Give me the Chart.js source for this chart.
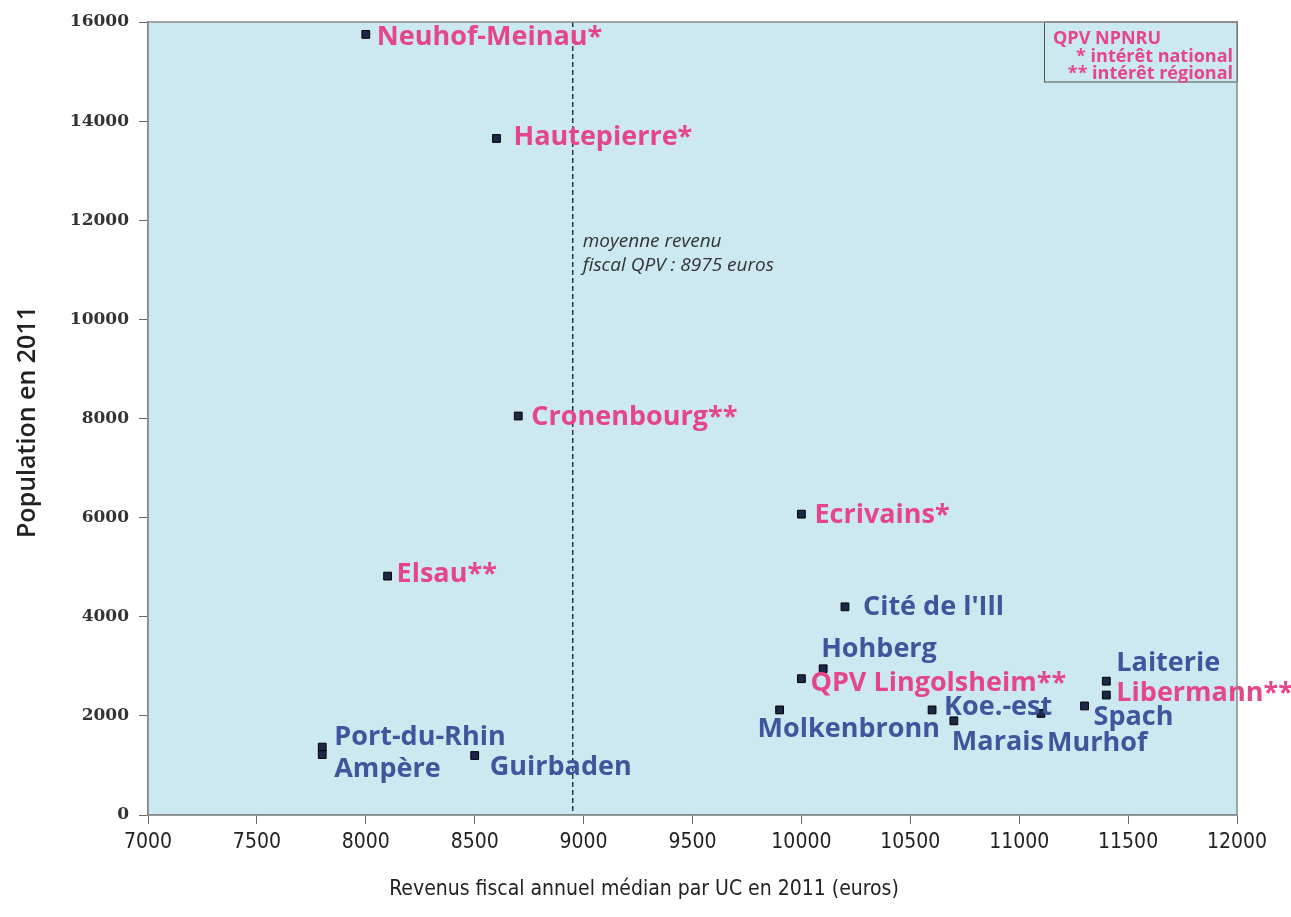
<!DOCTYPE html>
<html>
<head>
<meta charset="utf-8">
<script src="https://cdn.jsdelivr.net/npm/chart.js@4.4.0/dist/chart.umd.min.js"></script>
<style>
    html, body { margin: 0; padding: 0; background: #fff; }
    #wrap { width: 1291px; height: 917px; }
</style>
</head>
<body>
<div id="wrap"><canvas id="qpvChart" width="1291" height="917"></canvas></div>
<script>
// Quartiers (QPV) - revenu fiscal median par UC et population 2011
const quartiers = [
    'Neuhof-Meinau*', 'Hautepierre*', 'Cronenbourg**', 'Ecrivains*', 'Elsau**',
    "Cité de l'Ill", 'Hohberg', 'QPV Lingolsheim**', 'Laiterie', 'Libermann**',
    'Molkenbronn', 'Koe.-est', 'Spach', 'Murhof', 'Marais',
    'Port-du-Rhin', 'Ampère', 'Guirbaden'
];
const revenuMedian = [
    8000, 8600, 8700, 10000, 8100,
    10200, 10100, 10000, 11400, 11400,
    9900, 10600, 11300, 11100, 10700,
    7800, 7800, 8500
];
const population = [
    15750, 13650, 8050, 6070, 4820,
    4200, 2950, 2750, 2700, 2420,
    2120, 2120, 2200, 2050, 1900,
    1370, 1220, 1200
];
const xTickValues = [7000, 7500, 8000, 8500, 9000, 9500, 10000, 10500, 11000, 11500, 12000];
const yTickValues = [0, 2000, 4000, 6000, 8000, 10000, 12000, 14000, 16000];
const moyenneRevenu = 8950;
const moyenneTexte = ['moyenne revenu', 'fiscal QPV : 8975 euros'];
const legendLines = ['QPV NPNRU', '* intérêt national', '** intérêt régional'];

// label placement relative to each point (px)
const labelOffsets = [
    [11, 3], [17, -1], [13, 1], [13, 1], [9, -2],
    [18, 0], [-2, -19], [9, 5], [10, -18], [10, -2],
    [-22, 19], [12, -3], [9, 11], [6, 30], [-2, 21],
    [12, -10], [12, 15], [15, 12]
];

const PINK = '#e5468b';
const BLUE = '#3d569c';
const PLOT_BG = '#cce8f0';
const NARROW = "'Liberation Sans Narrow', 'DejaVu Sans Condensed', 'Roboto', sans-serif";

const decorPlugin = {
    id: 'decor',
    beforeDraw(chart) {
        const { ctx, chartArea: a } = chart;
        ctx.save();
        ctx.fillStyle = PLOT_BG;
        ctx.fillRect(a.left, a.top, a.right - a.left, a.bottom - a.top);
        ctx.restore();
    },
    beforeDatasetsDraw(chart) {
        const { ctx, chartArea: a, scales } = chart;
        const mx = scales.x.getPixelForValue(moyenneRevenu);
        ctx.save();
        ctx.strokeStyle = '#2a3550';
        ctx.lineWidth = 1.5;
        ctx.setLineDash([5, 3]);
        ctx.beginPath();
        ctx.moveTo(mx, a.top);
        ctx.lineTo(mx, a.bottom);
        ctx.stroke();
        ctx.setLineDash([]);
        ctx.fillStyle = '#333';
        ctx.font = "italic 19px 'Open Sans'";
        ctx.textAlign = 'left';
        ctx.textBaseline = 'middle';
        ctx.fillText(moyenneTexte[0], mx + 10, 242);
        ctx.fillText(moyenneTexte[1], mx + 10, 266);
        ctx.restore();
    },
    afterDatasetsDraw(chart) {
        const { ctx, chartArea: a, scales } = chart;
        ctx.save();
        // point labels
        ctx.font = "bold 27px 'Open Sans'";
        ctx.textAlign = 'left';
        ctx.textBaseline = 'middle';
        quartiers.forEach((name, i) => {
            const px = scales.x.getPixelForValue(revenuMedian[i]);
            const py = scales.y.getPixelForValue(population[i]);
            ctx.fillStyle = name.includes('*') ? PINK : BLUE;
            ctx.fillText(name, px + labelOffsets[i][0], py + labelOffsets[i][1]);
        });

        // legend box, top right
        const bx = 1044, bh = 60;
        ctx.fillStyle = PLOT_BG;
        ctx.fillRect(bx, a.top, a.right - bx, bh);
        ctx.strokeStyle = '#555';
        ctx.lineWidth = 1;
        ctx.strokeRect(bx + 0.5, a.top, a.right - bx, bh);
        ctx.fillStyle = PINK;
        ctx.font = "bold 18px 'Open Sans'";
        ctx.textAlign = 'left';
        ctx.fillText(legendLines[0], bx + 9, a.top + 17);
        ctx.textAlign = 'right';
        ctx.fillText(legendLines[1], a.right - 4, a.top + 35);
        ctx.fillText(legendLines[2], a.right - 4, a.top + 52);

        // plot frame
        ctx.strokeStyle = '#8a8a8a';
        ctx.lineWidth = 1.5;
        ctx.strokeRect(a.left, a.top, a.right - a.left, a.bottom - a.top);

        // axis titles
        ctx.fillStyle = '#222';
        ctx.textAlign = 'center';
        ctx.font = '21px ' + NARROW;
        ctx.fillText('Revenus fiscal annuel médian par UC en 2011 (euros)', 644, 890);
        ctx.translate(28, 422);
        ctx.rotate(-Math.PI / 2);
        ctx.font = "600 25px 'Open Sans'";
        ctx.fillText('Population en 2011', 0, 0);
        ctx.restore();
    }
};

new Chart(document.getElementById('qpvChart'), {
    type: 'scatter',
    data: {
        datasets: [{
            label: 'QPV',
            data: revenuMedian.map((x, i) => ({ x: x, y: population[i] })),
            pointStyle: 'rect',
            pointRadius: 5.5,
            pointHoverRadius: 5.5,
            backgroundColor: '#1d2747',
            borderColor: '#000',
            borderWidth: 1
        }]
    },
    options: {
        responsive: false,
        animation: false,
        devicePixelRatio: 1,
        layout: { padding: { left: 0, right: 54, top: 22, bottom: 0 } },
        plugins: {
            legend: { display: false },
            tooltip: { enabled: false }
        },
        scales: {
            x: {
                type: 'linear',
                min: 7000,
                max: 12000,
                afterBuildTicks: s => { s.ticks = xTickValues.map(v => ({ value: v })); },
                afterFit: s => { s.height = 102; },
                grid: { drawOnChartArea: false, drawTicks: true, tickLength: 9, color: '#666' },
                border: { display: true, color: '#8a8a8a', width: 1.5 },
                ticks: {
                    padding: 6,
                    color: '#222',
                    font: { family: NARROW, size: 21 },
                    maxRotation: 0,
                    callback: v => String(v)
                }
            },
            y: {
                type: 'linear',
                min: 0,
                max: 16000,
                afterBuildTicks: s => { s.ticks = yTickValues.map(v => ({ value: v })); },
                afterFit: s => { s.width = 148; },
                grid: { drawOnChartArea: false, drawTicks: true, tickLength: 9, color: '#666' },
                border: { display: true, color: '#8a8a8a', width: 1.5 },
                ticks: {
                    padding: 10,
                    color: '#333',
                    font: { family: "'DejaVu Serif'", size: 17, weight: 'bold' },
                    callback: v => String(v)
                }
            }
        }
    },
    plugins: [decorPlugin]
});
</script>
</body>
</html>
